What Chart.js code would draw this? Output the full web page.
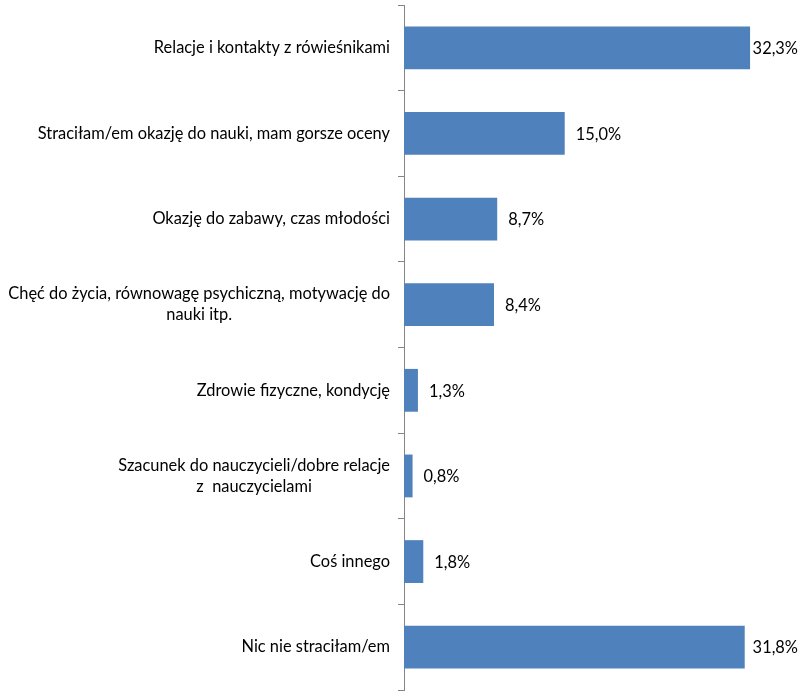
<!DOCTYPE html>
<html>
<head>
<meta charset="utf-8">
<script src="https://cdn.jsdelivr.net/npm/chart.js@4/dist/chart.umd.min.js"></script>
<style>
  html, body { margin: 0; padding: 0; background: #fff; }
  #wrap { width: 803px; height: 694px; }
</style>
</head>
<body>
<div id="wrap"><canvas id="lossChart"></canvas></div>
<script>
const categories = [
  'Relacje i kontakty z rówieśnikami',
  'Straciłam/em okazję do nauki, mam gorsze oceny',
  'Okazję do zabawy, czas młodości',
  ['Chęć do życia, równowagę psychiczną, motywację do', 'nauki itp.'],
  'Zdrowie fizyczne, kondycję',
  ['Szacunek do nauczycieli/dobre relacje', 'z  nauczycielami'],
  'Coś innego',
  'Nic nie straciłam/em',
];
const percents = [32.3, 15.0, 8.7, 8.4, 1.3, 0.8, 1.8, 31.8];

const FONT = 'Lato, "Open Sans", sans-serif';
const FONT_SIZE = 16.4;
const LINE_H = 21;

// category names: block sits right against the axis, lines centred within the block
const categoryLabels = {
  id: 'categoryLabels',
  afterDraw(chart) {
    const ctx = chart.ctx;
    const y = chart.scales.y;
    const right = y.right - 6 - 8;
    ctx.save();
    ctx.font = FONT_SIZE + 'px ' + FONT;
    ctx.fillStyle = '#000';
    ctx.textAlign = 'center';
    ctx.textBaseline = 'middle';
    categories.forEach((lab, i) => {
      const lines = Array.isArray(lab) ? lab : [lab];
      const w = Math.max(...lines.map(l => ctx.measureText(l).width));
      const cx = right - w / 2;
      const mid = y.getPixelForTick(i);
      lines.forEach((l, k) => {
        ctx.fillText(l, cx, mid + (k - (lines.length - 1) / 2) * LINE_H);
      });
    });
    ctx.restore();
  }
};

// writes "32,3%" style labels just past the end of each bar
const valueLabels = {
  id: 'valueLabels',
  afterDatasetsDraw(chart) {
    const ctx = chart.ctx;
    const meta = chart.getDatasetMeta(0);
    ctx.save();
    ctx.font = FONT_SIZE + 'px ' + FONT;
    ctx.fillStyle = '#000';
    ctx.textAlign = 'left';
    ctx.textBaseline = 'middle';
    meta.data.forEach((bar, i) => {
      const txt = percents[i].toFixed(1).replace('.', ',') + '%';
      const w = ctx.measureText(txt).width;
      const x = Math.min(bar.x + 11, chart.width - 5 - w);
      ctx.fillText(txt, x, bar.y + 1);
    });
    ctx.restore();
  }
};

new Chart(document.getElementById('lossChart'), {
  type: 'bar',
  data: {
    labels: categories,
    datasets: [{
      data: percents,
      backgroundColor: '#4F81BD',
      borderWidth: 0,
      categoryPercentage: 1,
      barPercentage: 0.5,
    }],
  },
  options: {
    indexAxis: 'y',
    responsive: true,
    maintainAspectRatio: false,
    animation: false,
    layout: { padding: { top: 5, bottom: 4, left: 0, right: 24 } },
    plugins: {
      legend: { display: false },
      tooltip: { enabled: false },
    },
    scales: {
      x: {
        display: false,
        min: 0,
        max: 35,
      },
      y: {
        afterFit(scale) {
          scale.width = 404;
          scale.paddingTop = 0;
          scale.paddingBottom = 0;
        },
        grid: {
          drawOnChartArea: false,
          offset: true,
          tickLength: 6,
          color: '#868686',
        },
        border: { color: '#868686', width: 1 },
        ticks: {
          color: 'rgba(0,0,0,0)',
          padding: 8,
          font: { family: FONT, size: FONT_SIZE, lineHeight: 1.28 },
        },
      },
    },
  },
  plugins: [valueLabels, categoryLabels],
});
</script>
</body>
</html>
